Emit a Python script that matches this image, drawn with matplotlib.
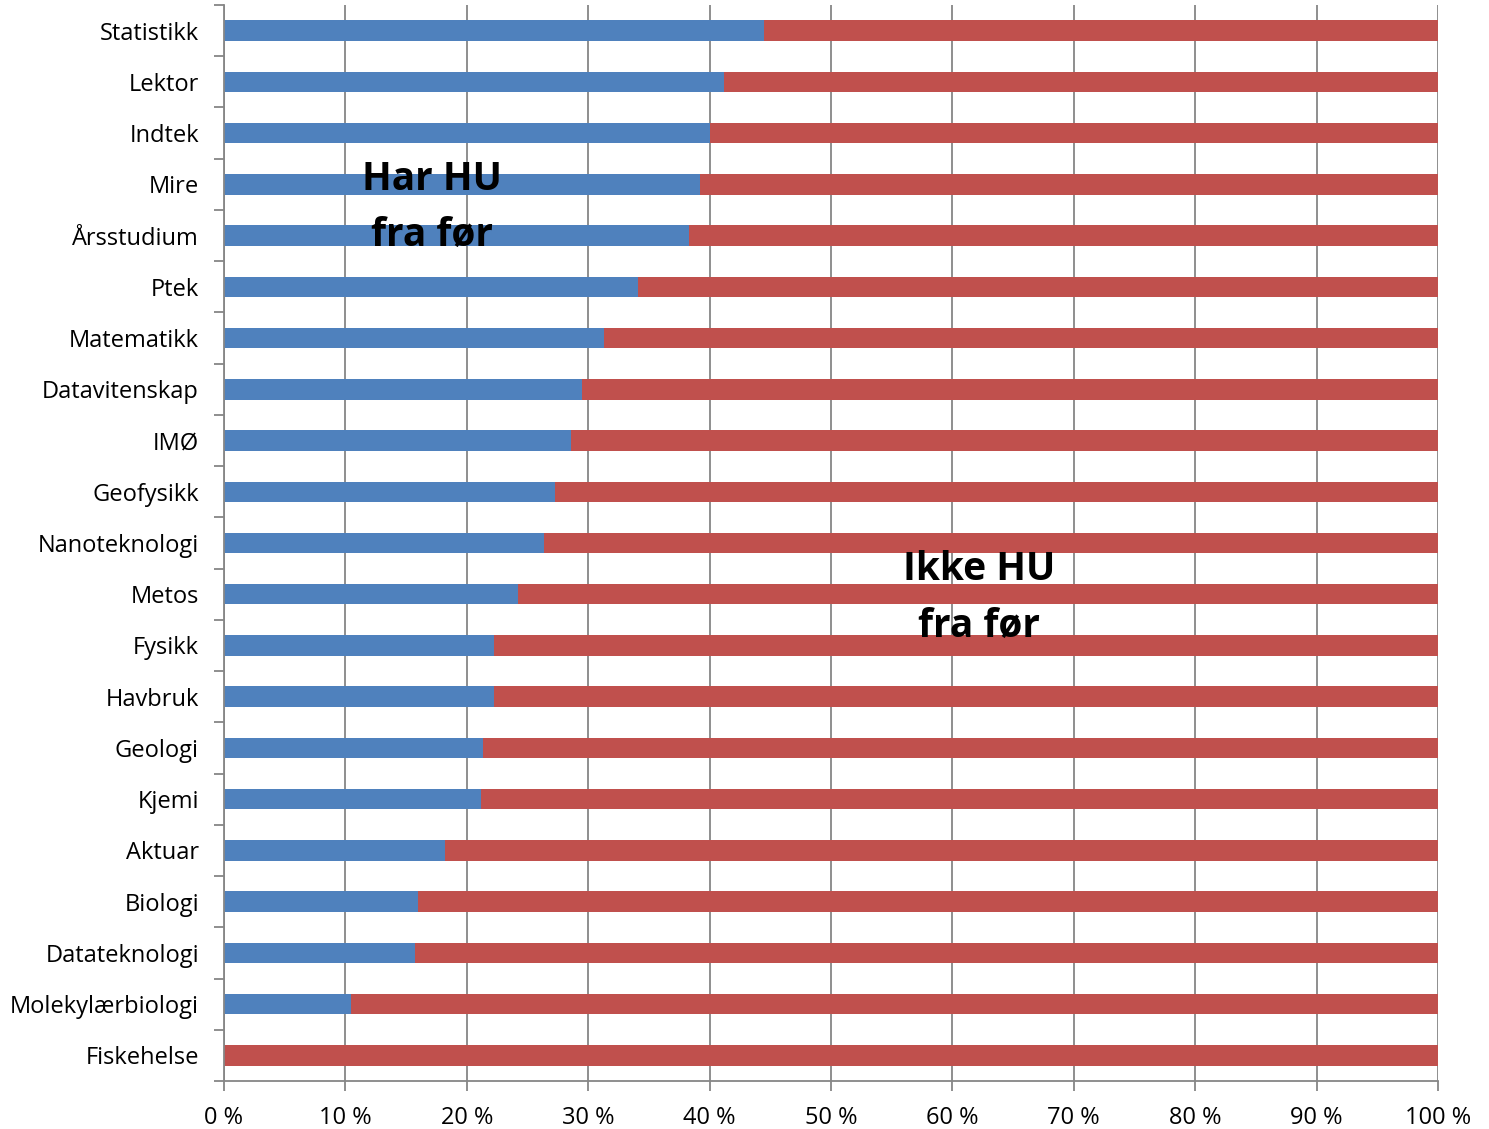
import matplotlib
matplotlib.use('Agg')

import matplotlib.pyplot as plt
import numpy as np

plt.rcParams['font.family'] = ['Open Sans', 'DejaVu Sans']

# Programmes, top to bottom, with share (%) that already had HU
programmes = ['Statistikk', 'Lektor', 'Indtek', 'Mire', 'Årsstudium', 'Ptek',
              'Matematikk', 'Datavitenskap', 'IMØ', 'Geofysikk', 'Nanoteknologi',
              'Metos', 'Fysikk', 'Havbruk', 'Geologi', 'Kjemi', 'Aktuar',
              'Biologi', 'Datateknologi', 'Molekylærbiologi', 'Fiskehelse']
har_hu = [44.5, 41.2, 40.0, 39.2, 38.3, 34.1, 31.3, 29.5, 28.6, 27.3, 26.4,
          24.2, 22.2, 22.2, 21.3, 21.2, 18.2, 16.0, 15.7, 10.5, 0.0]
ikke_hu = [100 - v for v in har_hu]

xticks = [0, 10, 20, 30, 40, 50, 60, 70, 80, 90, 100]
xticklabels = [f'{t} %' for t in xticks]

fig = plt.figure(figsize=(14.89, 11.29), dpi=100)
ax = fig.add_axes([224 / 1489, 1 - 1081 / 1129, (1438 - 224) / 1489, (1081 - 5) / 1129])

y = np.arange(len(programmes))[::-1]
ax.barh(y, har_hu, height=0.4, color='#4F81BD', zorder=2)
ax.barh(y, ikke_hu, left=har_hu, height=0.4, color='#C0504D', zorder=2)

ax.set_xlim(0, 100)
ax.set_ylim(-0.5, len(programmes) - 0.5)

ax.set_xticks(xticks)
ax.set_xticklabels(xticklabels, fontsize=17)
ax.set_yticks(y)
ax.set_yticklabels(programmes, fontsize=17)
ax.set_yticks(np.arange(-0.5, len(programmes)), minor=True)

ax.tick_params(axis='y', which='major', length=0, pad=18)
ax.tick_params(axis='y', which='minor', length=7, width=1.3, color='#868686', direction='out')
ax.tick_params(axis='x', which='major', length=7, width=1.3, color='#868686', direction='out', pad=11)

ax.grid(axis='x', color='#868686', linewidth=1.3, zorder=0)
ax.set_axisbelow(True)

for side in ['top', 'right']:
    ax.spines[side].set_visible(False)
for side in ['left', 'bottom']:
    ax.spines[side].set_color('#868686')
    ax.spines[side].set_linewidth(1.3)

ax.text(17.1, 16.55, 'Har HU\nfra før', ha='center', va='center', fontsize=28,
        fontweight='bold', linespacing=1.58, zorder=3)
ax.text(62.2, 8.93, 'Ikke HU\nfra før', ha='center', va='center', fontsize=28,
        fontweight='bold', linespacing=1.58, zorder=3)

plt.savefig('out.png', dpi=100)
plt.close()
